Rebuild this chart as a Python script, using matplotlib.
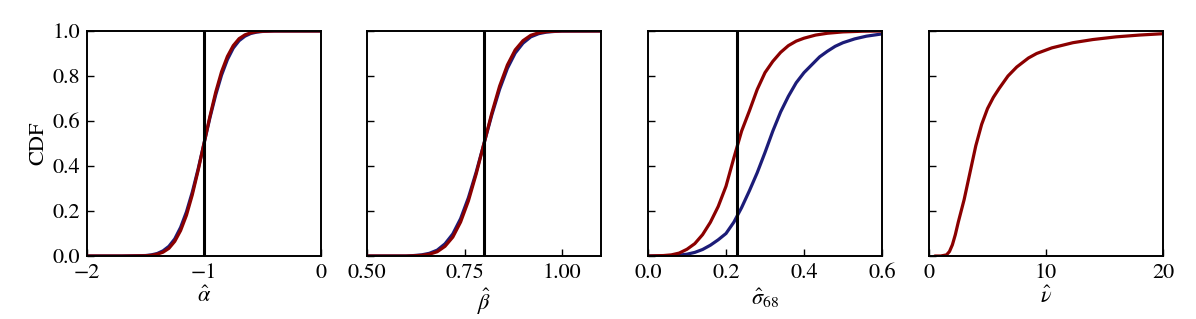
import matplotlib
matplotlib.use("Agg")
import matplotlib.pyplot as plt

plt.rcParams['font.family'] = ['STIXGeneral', 'Liberation Serif', 'DejaVu Serif']
plt.rcParams['mathtext.fontset'] = 'stix'

RED = '#8b0000'
BLUE = '#1c1c78'

# Panel 1: alpha-hat
a_x_red = [-2, -1.7, -1.5, -1.45, -1.4, -1.35, -1.3, -1.25, -1.2, -1.15, -1.1, -1.05, -1.0,
           -0.95, -0.9, -0.85, -0.8, -0.75, -0.7, -0.65, -0.6, -0.55, -0.5, -0.4, 0]
a_y_red = [0, 0, 0.001, 0.003, 0.008, 0.017, 0.034, 0.065, 0.113, 0.181, 0.272, 0.381, 0.5,
           0.619, 0.728, 0.819, 0.887, 0.935, 0.966, 0.983, 0.992, 0.997, 0.999, 1.0, 1.0]
a_x_blue = a_x_red
a_y_blue = [0, 0, 0.002, 0.005, 0.011, 0.023, 0.043, 0.076, 0.127, 0.196, 0.284, 0.387, 0.5,
            0.613, 0.716, 0.804, 0.873, 0.924, 0.957, 0.977, 0.989, 0.995, 0.998, 1.0, 1.0]
a_true = -1.0

# Panel 2: beta-hat
b_x = [0.5, 0.6, 0.62, 0.64, 0.66, 0.68, 0.70, 0.72, 0.74, 0.76, 0.78, 0.80, 0.82, 0.84, 0.86,
       0.88, 0.90, 0.92, 0.94, 0.96, 0.98, 1.0, 1.1]
b_y_red = [0, 0, 0.001, 0.003, 0.008, 0.019, 0.043, 0.084, 0.151, 0.245, 0.365, 0.5, 0.635,
           0.755, 0.849, 0.916, 0.957, 0.981, 0.992, 0.997, 0.999, 1.0, 1.0]
b_y_blue = [0, 0, 0.002, 0.005, 0.012, 0.026, 0.054, 0.098, 0.166, 0.259, 0.373, 0.5, 0.627,
            0.741, 0.834, 0.902, 0.946, 0.974, 0.988, 0.995, 0.998, 0.9995, 1.0]
b_true = 0.8

# Panel 3: sigma68-hat
s_x_red = [0, 0.04, 0.06, 0.08, 0.10, 0.12, 0.14, 0.16, 0.18, 0.20, 0.22, 0.24, 0.26, 0.28,
           0.30, 0.32, 0.34, 0.36, 0.38, 0.40, 0.43, 0.46, 0.50, 0.55, 0.6]
s_y_red = [0, 0.002, 0.005, 0.013, 0.03, 0.055, 0.095, 0.15, 0.22, 0.31, 0.435, 0.555, 0.645,
           0.74, 0.815, 0.865, 0.905, 0.935, 0.955, 0.968, 0.982, 0.99, 0.996, 0.999, 1.0]
s_x_blue = [0, 0.05, 0.08, 0.10, 0.12, 0.14, 0.16, 0.18, 0.20, 0.22, 0.24, 0.26, 0.28, 0.30,
            0.32, 0.34, 0.36, 0.38, 0.40, 0.42, 0.44, 0.46, 0.48, 0.50, 0.53, 0.56, 0.6]
s_y_blue = [0, 0.001, 0.004, 0.008, 0.016, 0.029, 0.048, 0.072, 0.10, 0.15, 0.215, 0.29, 0.37,
            0.46, 0.555, 0.64, 0.71, 0.77, 0.815, 0.85, 0.885, 0.91, 0.932, 0.948, 0.965,
            0.977, 0.987]
s_true = 0.229

# Panel 4: nu-hat
n_x = [0.5, 1.0, 1.5, 1.75, 2.0, 2.25, 2.5, 2.75, 3.0, 3.25, 3.5, 3.75, 4.0, 4.5, 5.0, 5.5,
       6.0, 6.75, 7.5, 8.5, 9.2, 10.5, 12.3, 14, 16, 18, 20]
n_y_red = [0, 0, 0.005, 0.02, 0.05, 0.095, 0.15, 0.2, 0.25, 0.31, 0.37, 0.43, 0.49, 0.585,
           0.655, 0.705, 0.745, 0.8, 0.84, 0.88, 0.9, 0.925, 0.948, 0.962, 0.974, 0.982, 0.988]

xlabels = [r'$\hat{\alpha}$', r'$\hat{\beta}$', r'$\hat{\sigma}_{68}$', r'$\hat{\nu}$']
xlims = [(-2, 0), (0.5, 1.1), (0.0, 0.6), (0, 20)]
xticks = [[-2, -1, 0], [0.5, 0.75, 1.0], [0.0, 0.2, 0.4, 0.6], [0, 10, 20]]
xticklabels = [['\u22122', '\u22121', '0'], ['0.50', '0.75', '1.00'],
               ['0.0', '0.2', '0.4', '0.6'], ['0', '10', '20']]
yticks = [0.0, 0.2, 0.4, 0.6, 0.8, 1.0]

fig = plt.figure(figsize=(11.96, 3.19), dpi=100)
W, H = 1196, 319
lefts = [87, 367, 648, 929]
axes = []
for i, l in enumerate(lefts):
    ax = fig.add_axes([l / W, (319 - 256) / H, 234 / W, 225 / H])
    axes.append(ax)

lw = 2.3
kw = dict(lw=lw, solid_joinstyle='round', solid_capstyle='round')
ax = axes[0]
ax.plot(a_x_blue, a_y_blue, color=BLUE, **kw)
ax.plot(a_x_red, a_y_red, color=RED, **kw)
ax.axvline(a_true, color='black', lw=2.2)

ax = axes[1]
ax.plot(b_x, b_y_blue, color=BLUE, **kw)
ax.plot(b_x, b_y_red, color=RED, **kw)
ax.axvline(b_true, color='black', lw=2.2)

ax = axes[2]
ax.plot(s_x_blue, s_y_blue, color=BLUE, **kw)
ax.plot(s_x_red, s_y_red, color=RED, **kw)
ax.axvline(s_true, color='black', lw=2.2)

ax = axes[3]
ax.plot(n_x, n_y_red, color=RED, **kw)

for i, ax in enumerate(axes):
    ax.set_xlim(*xlims[i])
    ax.set_ylim(0, 1)
    ax.set_xticks(xticks[i])
    ax.set_xticklabels(xticklabels[i])
    ax.set_yticks(yticks)
    ax.tick_params(direction='in', length=5, width=1.0, labelsize=16, pad=5)
    for sp in ax.spines.values():
        sp.set_linewidth(1.4)
    ax.set_xlabel(xlabels[i], fontsize=16, labelpad=3)
    if i == 0:
        ax.set_yticklabels(['0.0', '0.2', '0.4', '0.6', '0.8', '1.0'])
        ax.set_ylabel('CDF', fontsize=16, labelpad=3)
    else:
        ax.set_yticklabels([])

fig.savefig('out.png', dpi=100)
